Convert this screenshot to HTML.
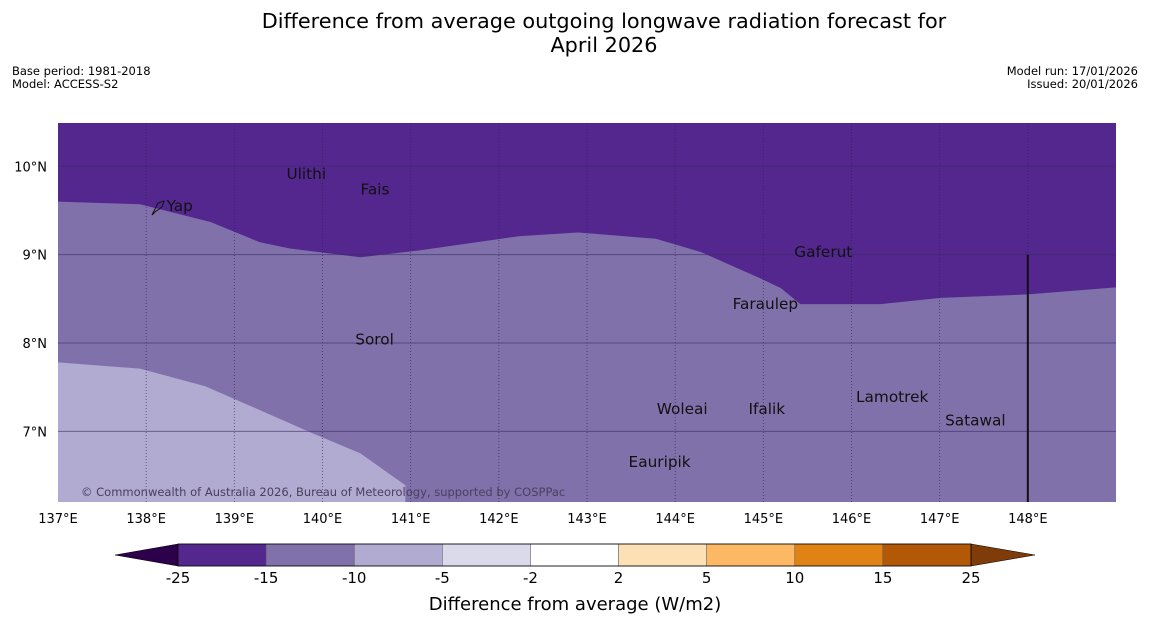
<!DOCTYPE html>
<html><head><meta charset="utf-8"><style>
body{margin:0;background:#fff;}
svg{display:block;font-family:"DejaVu Sans","Liberation Sans",sans-serif;}
</style></head><body>
<svg id="c" width="1150" height="644" viewBox="0 0 1150 644" xmlns="http://www.w3.org/2000/svg">
<text x="604" y="28" text-anchor="middle" font-size="20.8" fill="#000">Difference from average outgoing longwave radiation forecast for</text>
<text x="604" y="52" text-anchor="middle" font-size="20.8" fill="#000">April 2026</text>
<text x="12" y="75" font-size="11.5">Base period: 1981-2018</text>
<text x="12" y="88" font-size="11.5">Model: ACCESS-S2</text>
<text x="1138" y="75" font-size="11.5" text-anchor="end">Model run: 17/01/2026</text>
<text x="1138" y="88" font-size="11.5" text-anchor="end">Issued: 20/01/2026</text>
<g id="map"></g>
<g id="cbar"></g>
</svg>
<script>
const lonTicks=[137,138,139,140,141,142,143,144,145,146,147,148];
const latTicks=[7,8,9,10];
const darkBoundLon=[137.0,137.93,138.73,139.29,139.63,140.43,141.11,142.24,142.90,143.78,144.29,144.97,145.20,145.42,146.33,147.01,148.0,149.0];
const darkBoundLat=[9.60,9.57,9.37,9.14,9.07,8.97,9.05,9.21,9.25,9.18,9.03,8.73,8.62,8.44,8.44,8.51,8.55,8.63];
const lightBoundLon=[137.0,137.93,138.67,139.29,139.86,140.43,140.94,140.94];
const lightBoundLat=[7.78,7.71,7.51,7.24,6.99,6.75,6.39,6.2];
const islandNames=["Yap","Ulithi","Fais","Gaferut","Faraulep","Sorol","Woleai","Ifalik","Lamotrek","Satawal","Eauripik"];
const islandLon=[138.22,139.58,140.42,145.34,144.64,140.36,143.78,144.82,146.04,147.05,143.46];
const islandLat=[9.55,9.91,9.74,9.03,8.44,8.04,7.25,7.25,7.39,7.12,6.65];
const cbBounds=["-25","-15","-10","-5","-2","2","5","10","15","25"];
const cbColors=["#54278f","#8071aa","#b1aad1","#dadaeb","#ffffff","#fee0b6","#fdb863","#e08214","#b35806"];

const NS="http://www.w3.org/2000/svg";
const X0=58,X1=1116,Y0=123,Y1=502;
const lonMin=137,lonMax=149,latMin=6.2,latMax=10.49;
const xs=l=>X0+(l-lonMin)/(lonMax-lonMin)*(X1-X0);
const ys=l=>Y1-(l-latMin)/(latMax-latMin)*(Y1-Y0);
function mk(t,a,p){const e=document.createElementNS(NS,t);for(const k in a)e.setAttribute(k,a[k]);p.appendChild(e);return e;}
const map=document.getElementById('map');
let r=mk('rect',{x:X0,y:Y0,width:X1-X0,height:Y1-Y0,fill:'#54278f'},map);


let d='M'+xs(darkBoundLon[0])+','+ys(darkBoundLat[0]);
for(let i=1;i<darkBoundLon.length;i++)d+=' L'+xs(darkBoundLon[i])+','+ys(darkBoundLat[i]);
d+=' L'+X1+','+Y1+' L'+X0+','+Y1+' Z';
let p=mk('path',{d:d,fill:'#8071aa'},map);


d='M'+xs(lightBoundLon[0])+','+ys(lightBoundLat[0]);
for(let i=1;i<lightBoundLon.length;i++)d+=' L'+xs(lightBoundLon[i])+','+ys(lightBoundLat[i]);
d+=' L'+X0+','+Y1+' Z';
p=mk('path',{d:d,fill:'#b1aad1'},map);


lonTicks.forEach(l=>{
  const x=xs(l);
  if(l>lonMin){let g=mk('line',{x1:x,y1:Y0,x2:x,y2:Y1,stroke:'#2a1a50','stroke-width':0.8,'stroke-dasharray':'1,2',opacity:0.7},map);
  
  }
  let t=mk('text',{x:x,y:523,'text-anchor':'middle','font-size':13},map);t.textContent=l+'°E';
  
  
});
latTicks.forEach(l=>{
  const y=ys(l);
  let g=mk('line',{x1:X0,y1:y,x2:X1,y2:y,stroke:'#3a2a60','stroke-width':1,opacity:0.6},map);
  
  
  let t=mk('text',{x:47,y:y+5,'text-anchor':'end','font-size':13},map);t.textContent=l+'°N';
  
  
});
let vl=mk('line',{x1:xs(148),y1:ys(9),x2:xs(148),y2:Y1,stroke:'#111','stroke-width':2},map);


islandNames.forEach((n,i)=>{
  const x=xs(islandLon[i]),y=ys(islandLat[i]);
  let t=mk('text',{x:x+1,y:y+5,'font-size':15.3,fill:'#111'},map);t.textContent=n;
  
  
});
let yp=mk('path',{d:'M152,215 L158,203 L164,201 L162,207 L155,212 Z',fill:'none',stroke:'#111','stroke-width':1},map);


let cp=mk('text',{x:81,y:496,'font-size':11.5,fill:'#4a4060'},map);
cp.textContent='© Commonwealth of Australia 2026, Bureau of Meteorology, supported by COSPPac';


// colorbar
const cb=document.getElementById('cbar');
const CX0=178,CX1=971,CY0=544,CY1=566,n=cbColors.length,w=(CX1-CX0)/n;
let tl=mk('polygon',{points:`115,555 ${CX0},${CY0} ${CX0},${CY1}`,fill:'#2d004b',stroke:'#000','stroke-width':0.5},cb);


let tr=mk('polygon',{points:`1035,555 ${CX1},${CY0} ${CX1},${CY1}`,fill:'#7f3b08',stroke:'#000','stroke-width':0.5},cb);


cbColors.forEach((c,i)=>{
  let s=mk('rect',{x:CX0+i*w,y:CY0,width:w,height:CY1-CY0,fill:c,stroke:'#555','stroke-width':0.5},cb);
  
  
});
mk('rect',{x:CX0,y:CY0,width:CX1-CX0,height:CY1-CY0,fill:'none',stroke:'#000','stroke-width':0.8},cb);
cbBounds.forEach((b,i)=>{
  let t=mk('text',{x:CX0+i*w,y:583,'text-anchor':'middle','font-size':15},cb);t.textContent=b;
  
  
});
let ct=mk('text',{x:575,y:610,'text-anchor':'middle','font-size':18},cb);
ct.textContent='Difference from average (W/m2)';


</script>
</body></html>
